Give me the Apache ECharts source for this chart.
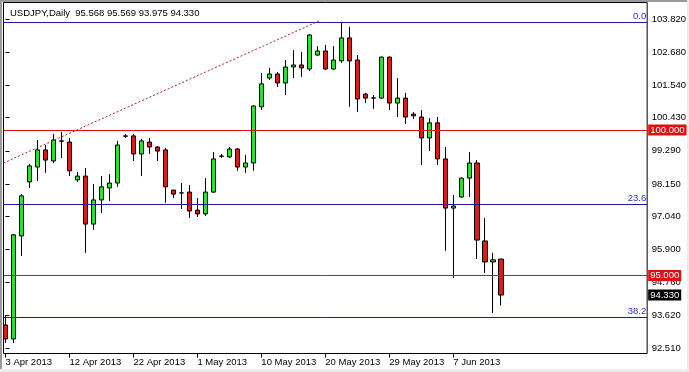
<!DOCTYPE html>
<html><head><meta charset="utf-8">
<script src="https://cdn.jsdelivr.net/npm/echarts@6/dist/echarts.min.js"></script>
<style>html,body{margin:0;padding:0;background:#fff;}#c{width:689px;height:372px;}</style>
</head><body><div id="c"></div>
<script>
const dates = ["3 Apr 2013","4 Apr 2013","5 Apr 2013","7 Apr 2013","8 Apr 2013","9 Apr 2013","10 Apr 2013","11 Apr 2013","12 Apr 2013","14 Apr 2013","15 Apr 2013","16 Apr 2013","17 Apr 2013","18 Apr 2013","19 Apr 2013","21 Apr 2013","22 Apr 2013","23 Apr 2013","24 Apr 2013","25 Apr 2013","26 Apr 2013","28 Apr 2013","29 Apr 2013","30 Apr 2013","1 May 2013","2 May 2013","3 May 2013","5 May 2013","6 May 2013","7 May 2013","8 May 2013","9 May 2013","10 May 2013","12 May 2013","13 May 2013","14 May 2013","15 May 2013","16 May 2013","17 May 2013","19 May 2013","20 May 2013","21 May 2013","22 May 2013","23 May 2013","24 May 2013","26 May 2013","27 May 2013","28 May 2013","29 May 2013","30 May 2013","31 May 2013","2 Jun 2013","3 Jun 2013","4 Jun 2013","5 Jun 2013","6 Jun 2013","7 Jun 2013","9 Jun 2013","10 Jun 2013","11 Jun 2013","12 Jun 2013","13 Jun 2013","14 Jun 2013"];
const open  = [93.30,92.82,96.36,98.22,98.73,99.32,98.94,99.63,99.59,98.29,98.42,96.77,97.60,98.01,98.18,99.79,99.80,99.18,99.59,99.42,99.32,97.94,97.84,97.87,97.25,97.12,97.87,99.10,99.08,99.35,98.73,98.87,100.80,101.79,101.93,101.62,102.17,102.24,102.10,102.58,102.72,102.10,102.38,103.17,102.41,101.24,101.10,101.10,102.51,100.93,101.10,100.55,100.45,99.73,100.25,99.01,97.32,97.70,98.35,98.87,96.19,95.47,95.568];
const close = [92.82,96.40,97.74,98.77,99.32,98.97,99.66,99.62,98.60,98.42,96.77,97.60,98.05,98.18,99.49,99.80,99.18,99.63,99.42,99.28,98.05,97.80,97.84,97.22,97.12,97.87,99.01,99.11,99.35,98.73,98.87,100.83,101.59,101.93,101.62,102.17,102.24,102.14,103.27,102.72,102.10,102.41,103.17,102.38,101.07,101.10,101.11,102.51,100.93,101.10,100.45,100.49,99.73,100.25,99.01,97.32,97.39,98.35,98.87,96.22,95.47,95.54,94.330];
const low   = [92.68,92.68,95.67,98.01,98.25,98.53,98.87,99.04,98.42,98.22,95.78,96.57,97.15,97.56,98.05,99.73,98.94,98.42,99.18,98.94,97.50,97.67,97.29,96.98,97.01,97.05,97.84,99.04,99.04,98.60,98.53,98.60,100.69,101.72,101.48,101.21,101.79,101.83,102.03,102.56,102.07,102.08,102.31,100.80,100.62,100.93,100.73,101.08,100.69,100.45,100.21,100.38,98.80,99.28,98.80,95.85,94.92,97.68,97.70,95.57,95.09,93.71,93.975];
const high  = [93.64,96.43,97.80,98.84,99.66,99.49,99.87,99.94,99.73,98.56,98.70,98.15,98.42,98.49,99.63,99.87,99.87,99.70,99.73,99.45,99.39,97.94,98.18,98.11,97.67,98.35,99.25,99.18,99.42,99.38,99.15,100.85,101.96,102.14,102.00,102.41,102.75,102.69,103.30,102.89,102.93,102.89,103.72,103.55,102.58,101.28,101.21,102.53,102.53,101.79,101.28,100.62,100.69,100.42,100.45,99.42,97.77,98.37,99.25,98.97,96.98,95.78,95.569];
const yTicks = [103.82,102.68,101.54,100.43,99.29,98.15,97.04,95.90,94.76,93.62,92.51];
const xTickIdx = [0,8,16,24,32,40,48,56];
const redLevels = [100, 95];
const fibLevels = [103.72, 97.45, 93.56];
const fibNames = ['0.0','23.6','38.2'];
const trendFrom = [-0.25, 98.87];
const trendTo = [39.2, 103.75];
const lastClose = 94.330;
const header = 'USDJPY,Daily  95.568 95.569 93.975 94.330';

const FF = 'Liberation Sans, Arial, sans-serif';
const FS = 9.5;
const candles = dates.map((d, i) => [i, open[i], close[i], low[i], high[i]]);

const chart = echarts.init(document.getElementById('c'), null, {renderer: 'canvas'});
chart.setOption({
  animation: false,
  backgroundColor: '#fff',
  grid: {left: 3.5, right: 41.5, top: 2.5, bottom: 18.5, show: true, borderColor: '#000', borderWidth: 1, backgroundColor: 'transparent'},
  xAxis: {
    type: 'value', min: -0.25, max: 80.25,
    axisLine: {show: false}, splitLine: {show: false},
    axisTick: {show: true, customValues: xTickIdx, length: 4, lineStyle: {color: '#000'}},
    axisLabel: {customValues: xTickIdx, formatter: v => dates[v] || '', align: 'left', margin: 4,
      color: '#000', fontSize: FS, fontFamily: FF}
  },
  yAxis: {
    type: 'value', position: 'right', min: 92.321, max: 104.387,
    axisLine: {show: false}, splitLine: {show: false},
    axisTick: {show: true, customValues: yTicks, length: 4, lineStyle: {color: '#000'}},
    axisLabel: {customValues: yTicks, formatter: v => v.toFixed(3), margin: 4.5,
      color: '#000', fontSize: FS, fontFamily: FF}
  },
  graphic: [
    {type: 'rect', shape: {x: 0, y: 0, width: 689, height: 2}, style: {fill: '#9a9a9a'}, silent: true},
    {type: 'rect', shape: {x: 0, y: 0, width: 2, height: 372}, style: {fill: '#9a9a9a'}, silent: true},
    {type: 'rect', shape: {x: 0, y: 369, width: 689, height: 3}, style: {fill: '#ececec'}, silent: true},
    {type: 'rect', shape: {x: 687, y: 0, width: 2, height: 372}, style: {fill: '#ececec'}, silent: true},
    {type: 'text', left: 10, top: 8, silent: true,
      style: {text: header, fill: '#000', fontSize: FS, fontFamily: FF}}
  ],
  series: [{
    type: 'candlestick',
    data: candles,
    encode: {x: 0, y: [1, 2, 3, 4]},
    barWidth: 5,
    itemStyle: {color: '#2ae62a', color0: '#dc1c1c', borderColor: '#000', borderColor0: '#000', borderWidth: 1},
    markLine: {
      silent: true, animation: false, symbol: ['none', 'none'],
      emphasis: {disabled: true},
      label: {show: false},
      lineStyle: {type: 'solid', width: 1},
      data: [].concat(
        redLevels.map(v => ({yAxis: v, lineStyle: {color: '#e01010', type: 'solid', width: 1},
          label: {show: true, position: 'end', formatter: v.toFixed(3), color: '#fff', backgroundColor: '#e01010',
            padding: [1, 2, 0, 2], distance: 1, fontSize: FS, fontFamily: FF}})),
        fibLevels.map((v, k) => ({yAxis: v, lineStyle: {color: '#1c1ca8', type: 'solid', width: 1},
          label: {show: true, position: 'insideEndTop', formatter: fibNames[k], color: '#2a2ad0',
            distance: 1, fontSize: FS, fontFamily: FF}})),
        [{yAxis: lastClose, lineStyle: {color: 'rgba(0,0,0,0)', width: 1},
          label: {show: true, position: 'end', formatter: lastClose.toFixed(3), color: '#fff', backgroundColor: '#000',
            padding: [1, 2, 0, 2], distance: 1, fontSize: FS, fontFamily: FF}}],
        [[{coord: trendFrom, lineStyle: {color: '#b42020', type: [2, 2], width: 1}}, {coord: trendTo}]]
      )
    }
  }]
});
</script></body></html>
